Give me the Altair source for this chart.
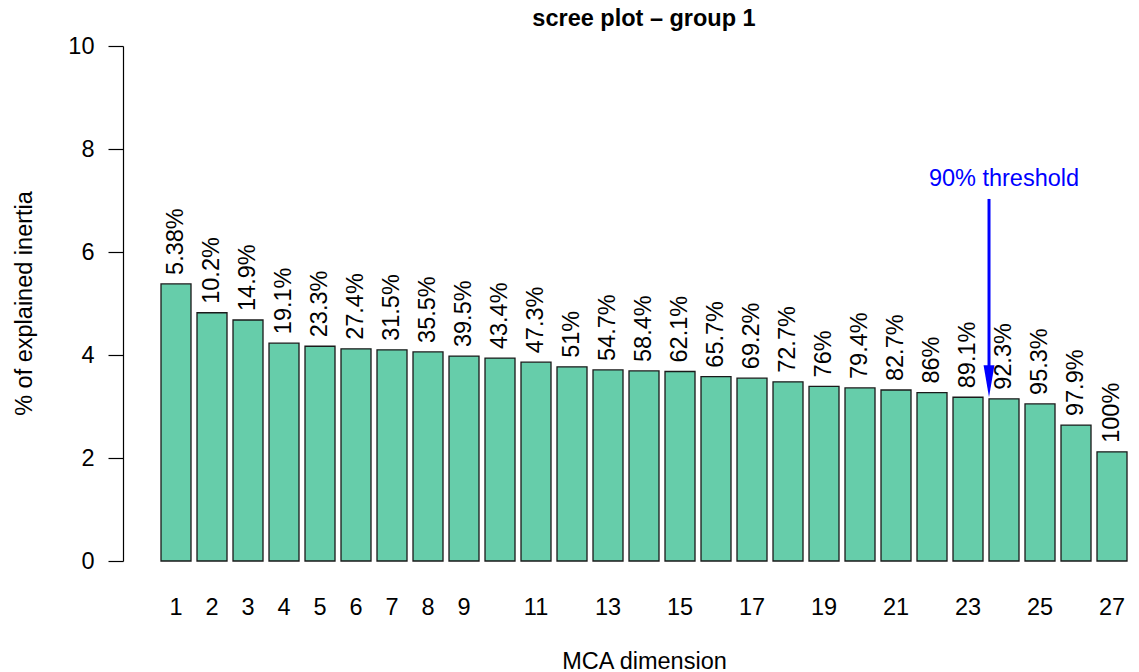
import altair as alt
import pandas as pd

# Data
dims = list(range(1, 28))
inertia = [5.38, 4.82, 4.68, 4.23, 4.17, 4.12, 4.10, 4.06, 3.98, 3.94, 3.86, 3.77,
           3.71, 3.69, 3.68, 3.58, 3.55, 3.48, 3.39, 3.36, 3.32, 3.27, 3.18, 3.15,
           3.05, 2.64, 2.12]
cum_labels = ["5.38%", "10.2%", "14.9%", "19.1%", "23.3%", "27.4%", "31.5%", "35.5%",
              "39.5%", "43.4%", "47.3%", "51%", "54.7%", "58.4%", "62.1%", "65.7%",
              "69.2%", "72.7%", "76%", "79.4%", "82.7%", "86%", "89.1%", "92.3%",
              "95.3%", "97.9%", "100%"]

arrow_dim = [24]
arrow_top = [7.03]
arrow_tip = [3.18]
arrow_text = ["90% threshold"]
arrow_text_y = [7.28]

FONT = "Liberation Sans"
FS = 23.5

df = pd.DataFrame({"dim": dims, "inertia": inertia, "lab": cum_labels})
adf = pd.DataFrame({"dim": arrow_dim, "top": arrow_top, "tip": arrow_tip,
                    "txt": arrow_text, "ty": arrow_text_y})

W = 1008
H = 515

xscale = alt.Scale(domain=dims, paddingInner=1/6, paddingOuter=0.5833, align=0.905)
yscale = alt.Scale(domain=[0, 10], nice=False, zero=True)

xaxis = alt.Axis(title="MCA dimension", domain=False, ticks=False, labelAngle=0,
                 labelPadding=34, labelFontSize=FS, labelFont=FONT, labelColor="black",
                 labelExpr="(datum.value < 10 || datum.value % 2 == 1) ? datum.label : ''",
                 titleFontSize=FS, titleFont=FONT, titleFontWeight="normal", titleColor="black",
                 titleX=521, titleY=107, titleBaseline="alphabetic", titleAnchor="middle",
                 titleAlign="center", grid=False)
yaxis = alt.Axis(title="% of explained inertia", values=[0, 2, 4, 6, 8, 10], grid=False,
                 domainColor="black", tickColor="black", tickSize=15, tickWidth=1.2,
                 domainWidth=1.2, labelPadding=14, labelFontSize=FS, labelFont=FONT,
                 labelColor="black", titleFontSize=FS, titleFont=FONT,
                 titleFontWeight="normal", titleColor="black", titleX=-99, titleY=257,
                 titleAngle=270, titleAlign="center", titleBaseline="middle")

base = alt.Chart(df)

bars = base.mark_bar(color="#66CDAA", stroke="#1a1a1a", strokeWidth=1.3).encode(
    x=alt.X("dim:O", scale=xscale, axis=xaxis),
    y=alt.Y("inertia:Q", scale=yscale, axis=yaxis),
)

labels = base.mark_text(angle=270, align="left", baseline="middle", dx=9,
                        fontSize=FS, font=FONT, color="black").encode(
    x=alt.X("dim:O", scale=xscale),
    y=alt.Y("inertia:Q", scale=yscale),
    text="lab:N",
)

abase = alt.Chart(adf)
arrow_line = abase.mark_rule(color="#0000FF", strokeWidth=3).encode(
    x=alt.X("dim:O", scale=xscale, bandPosition=0),
    y=alt.Y("top:Q", scale=yscale),
    y2=alt.Y2("arrow_end:Q"),
).transform_calculate(arrow_end="datum.tip + 0.5")

arrow_head = abase.mark_point(shape="M-0.34,-2 L0.34,-2 L0,0 Z", size=1024, filled=True,
                              color="#0000FF", opacity=1, strokeWidth=0).encode(
    x=alt.X("dim:O", scale=xscale, bandPosition=0),
    y=alt.Y("tip:Q", scale=yscale),
)

arrow_label = abase.mark_text(align="center", baseline="alphabetic", fontSize=FS,
                              font=FONT, color="#0000FF").encode(
    x=alt.X("dim:O", scale=xscale),
    y=alt.Y("ty:Q", scale=yscale),
    text="txt:N",
)

chart = alt.layer(bars, labels, arrow_line, arrow_head, arrow_label).properties(
    width=W, height=H,
    background="white",
    title=alt.TitleParams("scree plot – group 1", font=FONT, fontSize=FS, fontWeight="bold",
                          color="black", anchor="middle", frame="group", dx=17, offset=4),
    padding={"left": 115, "top": 38, "right": 0, "bottom": 111},
    autosize=alt.AutoSizeParams(type="none"),
).configure_view(stroke=None).configure_axis(grid=False)

chart.save("out.html", embed_options={"renderer": "svg", "actions": False})
